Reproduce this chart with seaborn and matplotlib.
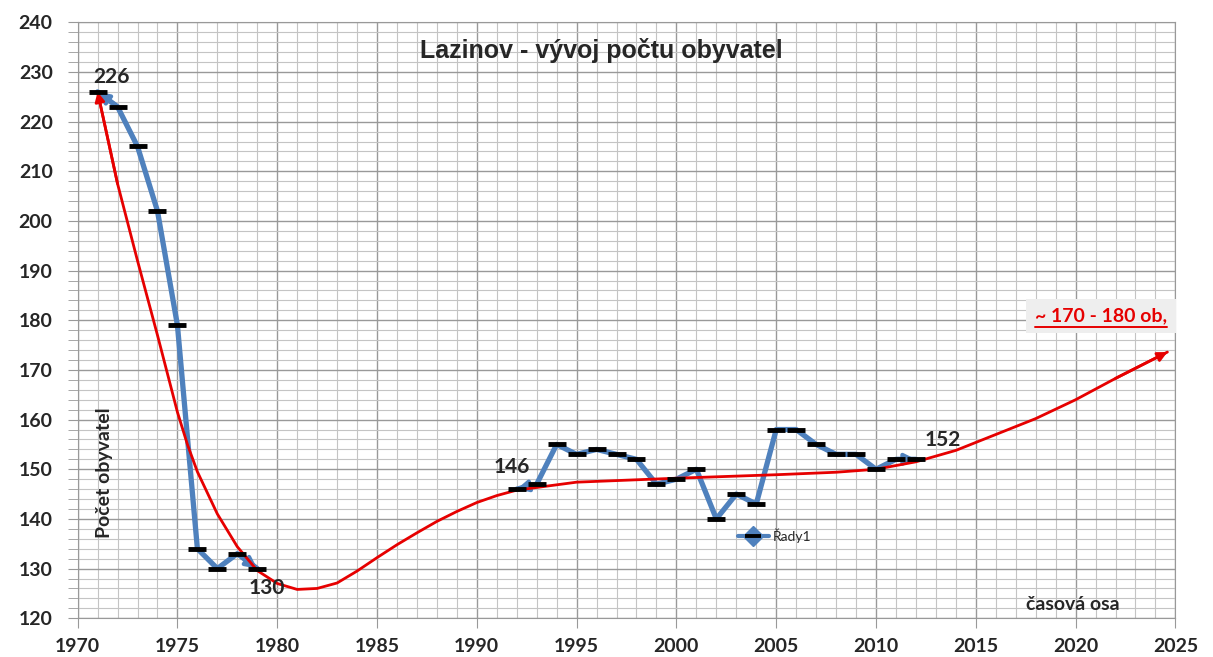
import matplotlib
matplotlib.use("Agg")
import matplotlib.pyplot as plt
import pandas as pd
import seaborn as sns
from matplotlib.lines import Line2D
from matplotlib.legend_handler import HandlerTuple
from matplotlib.ticker import MultipleLocator

# population data (blue series, two measured periods)
years_a = [1971, 1972, 1973, 1974, 1975, 1976, 1977, 1978, 1979]
pop_a = [226, 223, 215, 202, 179, 134, 130, 133, 130]
years_b = [1992, 1993, 1994, 1995, 1996, 1997, 1998, 1999, 2000, 2001, 2002,
           2003, 2004, 2005, 2006, 2007, 2008, 2009, 2010, 2011, 2012]
pop_b = [146, 147, 155, 153, 154, 153, 152, 147, 148, 150, 140,
         145, 143, 158, 158, 155, 153, 153, 150, 152, 152]

# hand drawn red trend curve
trend_years = [1971, 1972, 1973, 1974, 1975, 1975.5, 1976, 1977, 1978, 1979,
               1980, 1981, 1982, 1983, 1984, 1985, 1986, 1987, 1988, 1989,
               1990, 1991, 1992, 1995, 2000, 2005, 2008, 2010, 2012, 2014,
               2016, 2018, 2020, 2022, 2024.6]
trend_vals = [226, 207.5, 192, 177, 161.5, 155, 149.5, 141, 134.4, 129.6,
              127, 125.8, 126, 127.1, 129.5, 132.2, 134.8, 137.2, 139.5, 141.5,
              143.3, 144.7, 145.8, 147.4, 148.2, 148.9, 149.4, 150, 151.5, 153.8,
              157, 160.2, 164, 168.3, 173.6]

labels = ["226", "130", "146", "152"]
label_years = [1971, 1979, 1992, 2012]
label_vals = [226, 130, 146, 152]

blue = "#4f81bd"
red = "#e60000"

df = pd.DataFrame({
    "Rok": years_a + years_b,
    "Obyvatel": pop_a + pop_b,
    "Usek": ["a"] * len(years_a) + ["b"] * len(years_b),
})
trend = pd.DataFrame({"Rok": trend_years, "Obyvatel": trend_vals})

sns.set_style("white")
plt.rcParams["font.family"] = ["Lato", "DejaVu Sans"]

fig, ax = plt.subplots(figsize=(12.13, 6.57), dpi=100)
fig.subplots_adjust(left=0.064, right=0.969, top=0.966, bottom=0.059)

# red trend
sns.lineplot(data=trend, x="Rok", y="Obyvatel", color=red, linewidth=2.0,
             sort=False, ax=ax, zorder=4)
ax.annotate("", xy=(trend_years[0], trend_vals[0]),
            xytext=(trend_years[1], trend_vals[1]),
            arrowprops=dict(arrowstyle="-|>", color=red, lw=2.0,
                            mutation_scale=14, shrinkA=0, shrinkB=0), zorder=5)
ax.annotate("", xy=(trend_years[-1], trend_vals[-1]),
            xytext=(trend_years[-2], trend_vals[-2]),
            arrowprops=dict(arrowstyle="-|>", color=red, lw=2.0,
                            mutation_scale=14, shrinkA=0, shrinkB=0), zorder=5)

# blue series
sns.lineplot(data=df, x="Rok", y="Obyvatel", units="Usek", estimator=None,
             color=blue, linewidth=3.8, ax=ax, zorder=3)
for yrs, vals in [(years_a, pop_a), (years_b, pop_b)]:
    for i0, i1 in [(1, 0), (-2, -1)]:
        ax.annotate("", xy=(yrs[i1], vals[i1]), xytext=(yrs[i0], vals[i0]),
                    arrowprops=dict(arrowstyle="-|>", color=blue, lw=3.0,
                                    mutation_scale=16, shrinkA=0, shrinkB=0),
                    zorder=3)
sns.scatterplot(data=df, x="Rok", y="Obyvatel", marker="_", s=150,
                linewidth=3.5, color="black", ax=ax, zorder=6)

# axes & grid
ax.set_xlim(1970, 2025)
ax.set_ylim(120, 240)
ax.xaxis.set_major_locator(MultipleLocator(5))
ax.xaxis.set_minor_locator(MultipleLocator(1))
ax.yaxis.set_major_locator(MultipleLocator(10))
ax.yaxis.set_minor_locator(MultipleLocator(2))
ax.grid(which="major", color="#999999", linewidth=1.0)
ax.grid(which="minor", color="#c4c4c4", linewidth=0.8)
ax.set_axisbelow(True)
ax.tick_params(axis="y", which="both", direction="out", length=7,
               color="#999999", left=True, pad=11)
ax.tick_params(axis="x", which="major", direction="out", length=7,
               color="#999999", bottom=True, pad=7)
ax.tick_params(axis="x", which="minor", bottom=False)
for lab in ax.get_xticklabels() + ax.get_yticklabels():
    lab.set_fontweight("bold")
    lab.set_fontsize(14)
for side in ["top", "right", "left", "bottom"]:
    ax.spines[side].set_color("#999999")
ax.set_xlabel("")
ax.set_ylabel("")

# texts
ax.text(0.477, 0.953, "Lazinov - vývoj počtu obyvatel", transform=ax.transAxes,
        ha="center", va="center", fontsize=18, fontweight="bold",
        family=["Liberation Sans", "DejaVu Sans"])
ax.text(0.0246, 0.245, "Počet obyvatel", transform=ax.transAxes, rotation=90,
        ha="center", va="center", fontsize=14, fontweight="bold")
ax.text(0.907, 0.0235, "časová osa", transform=ax.transAxes, ha="center",
        va="center", fontsize=14, fontweight="bold")
offsets = [(0.7, 2.9), (0.5, -3.9), (-0.25, 4.5), (1.35, 3.9)]
for txt, yr, val, (dx, dy) in zip(labels, label_years, label_vals, offsets):
    ax.text(yr + dx, val + dy, txt, ha="center", va="center", fontsize=15,
            fontweight="bold", zorder=7)

t = ax.text(0.9325, 0.507, "~ 170 - 180 ob,", transform=ax.transAxes,
            ha="center", va="center", fontsize=14, fontweight="bold",
            color=red, zorder=7,
            bbox=dict(boxstyle="square,pad=0.45", facecolor="#eeeeee",
                      edgecolor="none"))
fig.canvas.draw()
bb = t.get_window_extent().transformed(ax.transAxes.inverted())
ax.plot([bb.x0, bb.x1], [bb.y0 - 0.004, bb.y0 - 0.004], transform=ax.transAxes,
        color=red, linewidth=1.4, zorder=8)

# legend: blue line + diamond with a black dash on top
h1 = Line2D([], [], color=blue, marker="D", markersize=10, linestyle="-",
            linewidth=3)
h2 = Line2D([], [], color="black", marker="_", markersize=11,
            markeredgewidth=2.8, linestyle="none")
ax.legend([(h1, h2)], ["Řady1"], handler_map={tuple: HandlerTuple(ndivide=1)},
          loc="center", bbox_to_anchor=(0.635, 0.138), frameon=False,
          handlelength=2.2, handletextpad=0.3,
          prop={"family": ["Lato", "DejaVu Sans"], "size": 10})

fig.savefig("out.png", dpi=100)
